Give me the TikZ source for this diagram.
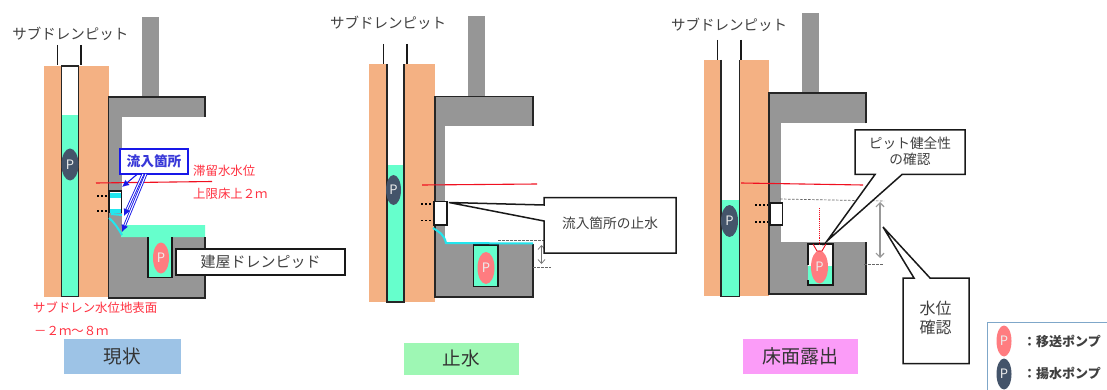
\documentclass[tikz,border=0pt]{standalone}
\usepackage{fontspec}
\setmainfont{Noto Sans CJK JP}
\usetikzlibrary{shapes.geometric,arrows.meta}
\definecolor{soil}{HTML}{F4B183}
\definecolor{aqua}{HTML}{66FFCC}
\definecolor{conc}{HTML}{969696}
\definecolor{pumpr}{HTML}{FF7C80}
\definecolor{pumpb}{HTML}{44546A}
\definecolor{txt}{HTML}{404040}
\definecolor{redt}{HTML}{FF3040}
\definecolor{redl}{HTML}{F01020}
\definecolor{seepc}{HTML}{22E6EE}
\definecolor{bluel}{HTML}{1818E8}
\definecolor{bluet}{HTML}{3838D8}
\definecolor{stageA}{HTML}{9DC3E6}
\definecolor{stageB}{HTML}{9EF7B4}
\definecolor{stageC}{HTML}{FB9CF8}
\definecolor{legendb}{HTML}{7FA7C9}
\tikzset{
  soilfill/.style={fill=soil,draw=none},
  concfill/.style={fill=conc,draw=none},
  waterfill/.style={fill=aqua,draw=none},
  blk/.style={draw=black!85,line width=1.3pt},
  blkthick/.style={draw=black!90,line width=1.8pt},
  pipemark/.style={draw=black!90,line width=1.6pt},
  dotsline/.style={draw=black,line width=1.5pt,dash pattern=on 2pt off 2pt},
  redline/.style={draw=redl,line width=1.1pt},
  seep/.style={draw=seepc,line width=2pt},
  graydash/.style={draw=black!60,line width=.7pt,dash pattern=on 2.5pt off 1.5pt},
  pump/.style={ellipse,inner sep=0pt,minimum width=17pt,minimum height=32pt,text=white!85!gray,font=\fontsize{13}{13}\selectfont},
  pumpred/.style={pump,fill=pumpr},
  pumpblue/.style={pump,fill=pumpb},
  title/.style={text=txt,font=\fontsize{14.5}{15}\selectfont,inner sep=0pt},
  redtext/.style={text=redt,font=\fontsize{12.4}{13}\selectfont,inner sep=0pt},
  lbl/.style={text=txt,font=\fontsize{13.7}{16}\selectfont,inner sep=0pt,align=center},
  stage/.style={inner sep=0pt,text=black!80,font=\fontsize{18.6}{20}\selectfont},
  callout/.style={fill=white,draw=black!90,line width=1.5pt,line join=miter},
  flow/.style={draw=bluel,line width=.9pt,double=white,double distance=1pt,-{Latex[length=7pt,width=7pt]}},
  flowone/.style={draw=bluel,line width=1.1pt,-{Latex[length=7pt,width=7pt]}},
  gauge/.style={draw=black!55,line width=.7pt,{Straight Barb[length=4pt,width=7pt]}-{Straight Barb[length=4pt,width=7pt]}},
  gaugethick/.style={draw=black!40,line width=1.2pt,{Straight Barb[length=4pt,width=8pt]}-{Straight Barb[length=4pt,width=8pt]}},
}
\begin{document}
\begin{tikzpicture}[x=1pt,y=-1pt]
\useasboundingbox (0,0) rectangle (1107,390);
\fill[white] (0,0) rectangle (1107,390);

% ---------- Panel 1
\fill[soilfill] (44,66) rectangle (109,297);
\fill[white] (61.5,66) rectangle (78.5,115);
\fill[waterfill] (61.5,115) rectangle (78.5,297);
\draw[blk] (61.5,66) rectangle (78.5,296.5);
\draw[pipemark] (57.5,45) -- (57.5,65);
\draw[pipemark] (81,45) -- (81,65);
\fill[concfill] (142,17) rectangle (159,97);
\fill[concfill] (108.5,97) rectangle (205,117);
\fill[concfill] (108.5,97) rectangle (122,298);
\fill[concfill] (108.5,237) rectangle (205,298);
\fill[waterfill] (121,237) -- (123,225) -- (205,225) -- (205,237) -- cycle;
\fill[waterfill] (148,237) rectangle (172,278);
\draw[blk] (205,117) -- (205,97) -- (108.5,97) -- (108.5,298) -- (205,298) -- (205,237);
\draw[blkthick] (148,237) -- (148,277.5) -- (172,277.5) -- (172,237);
\fill[white] (109,191) rectangle (121.5,213);
\fill[seepc] (110,193) rectangle (120.5,198);
\fill[seepc] (110,209) rectangle (121,213);
\draw[blkthick] (109,213) -- (109,191) -- (121.5,191) -- (121.5,213);
\draw[seep] (109,218) .. controls (114,222) and (118,228) .. (122,235);
\draw[seep] (122,215) -- (111,214);
\draw[dotsline] (97,196) -- (108,196);
\draw[dotsline] (97,211) -- (108,211);
\node[pumpblue] (p1b) at (70,164.5) {P};
\node[pumpred,minimum width=16pt,minimum height=31pt] (p1r) at (161,258) {P};
\coordinate (r1a) at (96,183); \coordinate (r1b) at (212,181.5);
\draw[redline] (r1a) -- (r1b);
\node[draw=bluel,line width=1.2pt,fill=white,minimum width=68pt,minimum height=25pt,inner sep=0pt,text=bluet,font=\bfseries\fontsize{13.7}{14}\selectfont] (inflow) at (154,161.5) {流入箇所};
\coordinate (f1) at (122,187); \coordinate (f2) at (124,216); \coordinate (f3) at (122,232);
\coordinate (fs1) at (137.5,174); \coordinate (fs2) at (143,174); \coordinate (fs3) at (146,174);
\draw[flowone] (fs1) -- (f1);
\draw[flow] (fs2) -- (f2);
\draw[flow] (fs3) -- (f3);
\node[title,anchor=center] (t1) at (70.5,34) {サブドレンピット};
\node[redtext,anchor=west] (r1t) at (193,171) {滞留水水位};
\node[redtext,anchor=west] (r2t) at (193,194) {上限床上２ｍ};
\node[redtext,anchor=west] (r3t) at (33,308) {サブドレン水位地表面};
\node[redtext,anchor=west] (r4t) at (34,331) {－２ｍ～８ｍ};
\node[callout,minimum width=169pt,minimum height=26pt,inner sep=0pt,text=txt,font=\fontsize{15}{15}\selectfont] (drain) at (260.5,262) {建屋ドレンピッド};
\node[stage,fill=stageA,minimum width=117pt,minimum height=35pt] (s1) at (122.5,356.5) {現状};

% ---------- Panel 2
\fill[soilfill] (369,64) rectangle (435,302);
\fill[white] (387,64) rectangle (404,165);
\fill[waterfill] (387,165) rectangle (404,302);
\draw[blk] (387,64) -- (387,302) -- (404,302) -- (404,64);
\draw[pipemark] (383.5,44) -- (383.5,64);
\draw[pipemark] (407,44) -- (407,64);
\fill[concfill] (468,16) rectangle (485,97);
\fill[concfill] (435,96.5) rectangle (533,126);
\fill[concfill] (435,96.5) rectangle (445,297);
\fill[concfill] (435,244) rectangle (533,297);
\fill[waterfill] (473,245) rectangle (498,287);
\draw[blkthick] (473.5,245) rectangle (498,286.5);
\draw[blk] (533,126) -- (533,96.5) -- (435,96.5) -- (435,297) -- (533,297) -- (533,244);
\fill[white] (434,201.5) rectangle (447,225);
\draw[blkthick] (434,201.5) rectangle (447,225);
\draw[dotsline] (421,204) -- (433,204);
\draw[dotsline] (421,220.5) -- (433,220.5);
\draw[seep] (433,228) .. controls (439,232) and (444,234) .. (446,243) -- (533,243.5);
\node[pumpblue,minimum width=15pt,minimum height=30pt] (p2b) at (393.5,190) {P};
\node[pumpred] (p2r) at (486,268) {P};
\coordinate (r2a) at (422,185); \coordinate (r2b) at (537,184);
\draw[redline] (r2a) -- (r2b);
\coordinate (d2a) at (498,240); \coordinate (d2b) at (551,240);
\coordinate (d2c) at (533,267); \coordinate (d2d) at (551,267);
\draw[graydash] (d2a) -- (d2b);
\draw[graydash] (d2c) -- (d2d);
\coordinate (g2a) at (541.5,245); \coordinate (g2b) at (541.5,264);
\draw[gauge] (g2a) -- (g2b);
\draw[callout] (544,197.5) -- (676,197.5) -- (676,253) -- (544,253) -- (544,221) -- (449,202.5) -- (544,205) -- cycle;
\node[lbl] (c2) at (610,223) {流入箇所の止水};
\node[title] (t2) at (388,22.5) {サブドレンピット};
\node[stage,fill=stageB,minimum width=115pt,minimum height=32pt] (s2) at (461.5,358.5) {止水};

% ---------- Panel 3
\fill[soilfill] (704,60) rectangle (769,296);
\fill[white] (721,60) rectangle (739.5,200);
\fill[waterfill] (721,200) rectangle (739.5,297);
\draw[blk] (721,60) -- (721,296.5) -- (739.5,296.5) -- (739.5,60);
\draw[pipemark] (717.5,40) -- (717.5,60);
\draw[pipemark] (741,40) -- (741,60);
\fill[concfill] (802,13) rectangle (819,93);
\fill[concfill] (769,93) rectangle (866,123.5);
\fill[concfill] (769,93) rectangle (781,294);
\fill[concfill] (769,242) rectangle (866,294);
\fill[white] (808,244) rectangle (833,285);
\fill[waterfill] (808,266) rectangle (833,285);
\draw[blkthick] (808,265) -- (808,244) -- (833,244) -- (833,285) -- (808,285) -- (808,280);
\draw[blk] (866,123.5) -- (866,93) -- (769,93) -- (769,294) -- (866,294) -- (866,242);
\fill[white] (770,203) rectangle (782.5,225);
\draw[blkthick] (770,203) rectangle (782.5,225);
\draw[dotsline] (755,205) -- (768,205);
\draw[dotsline] (755,222) -- (768,222);
\node[pumpblue] (p3b) at (729.5,221) {P};
\node[pumpred,minimum height=33pt] (p3r) at (819.5,267) {P};
\coordinate (r3a) at (741,183); \coordinate (r3b) at (863,185);
\draw[redline] (r3a) -- (r3b);
\coordinate (d3a) at (780,199); \coordinate (d3b) at (884,201);
\coordinate (d3c) at (864,264); \coordinate (d3d) at (884,264);
\draw[graydash] (d3a) -- (d3b);
\draw[graydash] (d3c) -- (d3d);
\coordinate (g3a) at (880,202); \coordinate (g3b) at (880,258);
\draw[gaugethick] (g3a) -- (g3b);
\coordinate (e1) at (819.5,208); \coordinate (e2) at (819.5,245);
\draw[redl,line width=.9pt,densely dotted] (e1) -- (e2);
\draw[redl,line width=.9pt] (813,244) -- (817,251) -- (822,251) -- (826,244);
\draw[callout] (855,130) -- (965,130) -- (965,174.5) -- (902,174.5) -- (827,241) -- (875,174.5) -- (855,174.5) -- cycle;
\node[lbl] (c3) at (910,151.5) {ピット健全性\\の確認};
\draw[callout] (903,278) -- (914,278) -- (883,227) -- (930,278) -- (969,278) -- (969,363.5) -- (903,363.5) -- cycle;
\node[lbl,font=\fontsize{16}{19}\selectfont] (c4) at (935.5,317.5) {水位\\確認};
\node[title] (t3) at (729,25) {サブドレンピット};
\node[stage,fill=stageC,minimum width=115pt,minimum height=35pt,font=\fontsize{19}{20}\selectfont] (s3) at (800.5,356.5) {床面露出};

% ---------- Legend
\node[draw=legendb,line width=1pt,minimum width=125pt,minimum height=75pt,inner sep=0pt] (lg) at (1050,360) {};
\node[pumpred,minimum width=15pt,minimum height=31pt] (lr) at (1004,341) {P};
\node[pumpblue,minimum width=15pt,minimum height=31pt] (lb) at (1004,374) {P};
\node[anchor=west,inner sep=0pt,text=txt,font=\bfseries\fontsize{13}{13}\selectfont] (lt1) at (1023,341) {：移送ポンプ};
\node[anchor=west,inner sep=0pt,text=txt,font=\bfseries\fontsize{13}{13}\selectfont] (lt2) at (1023,373) {：揚水ポンプ};
\end{tikzpicture}
\end{document}
